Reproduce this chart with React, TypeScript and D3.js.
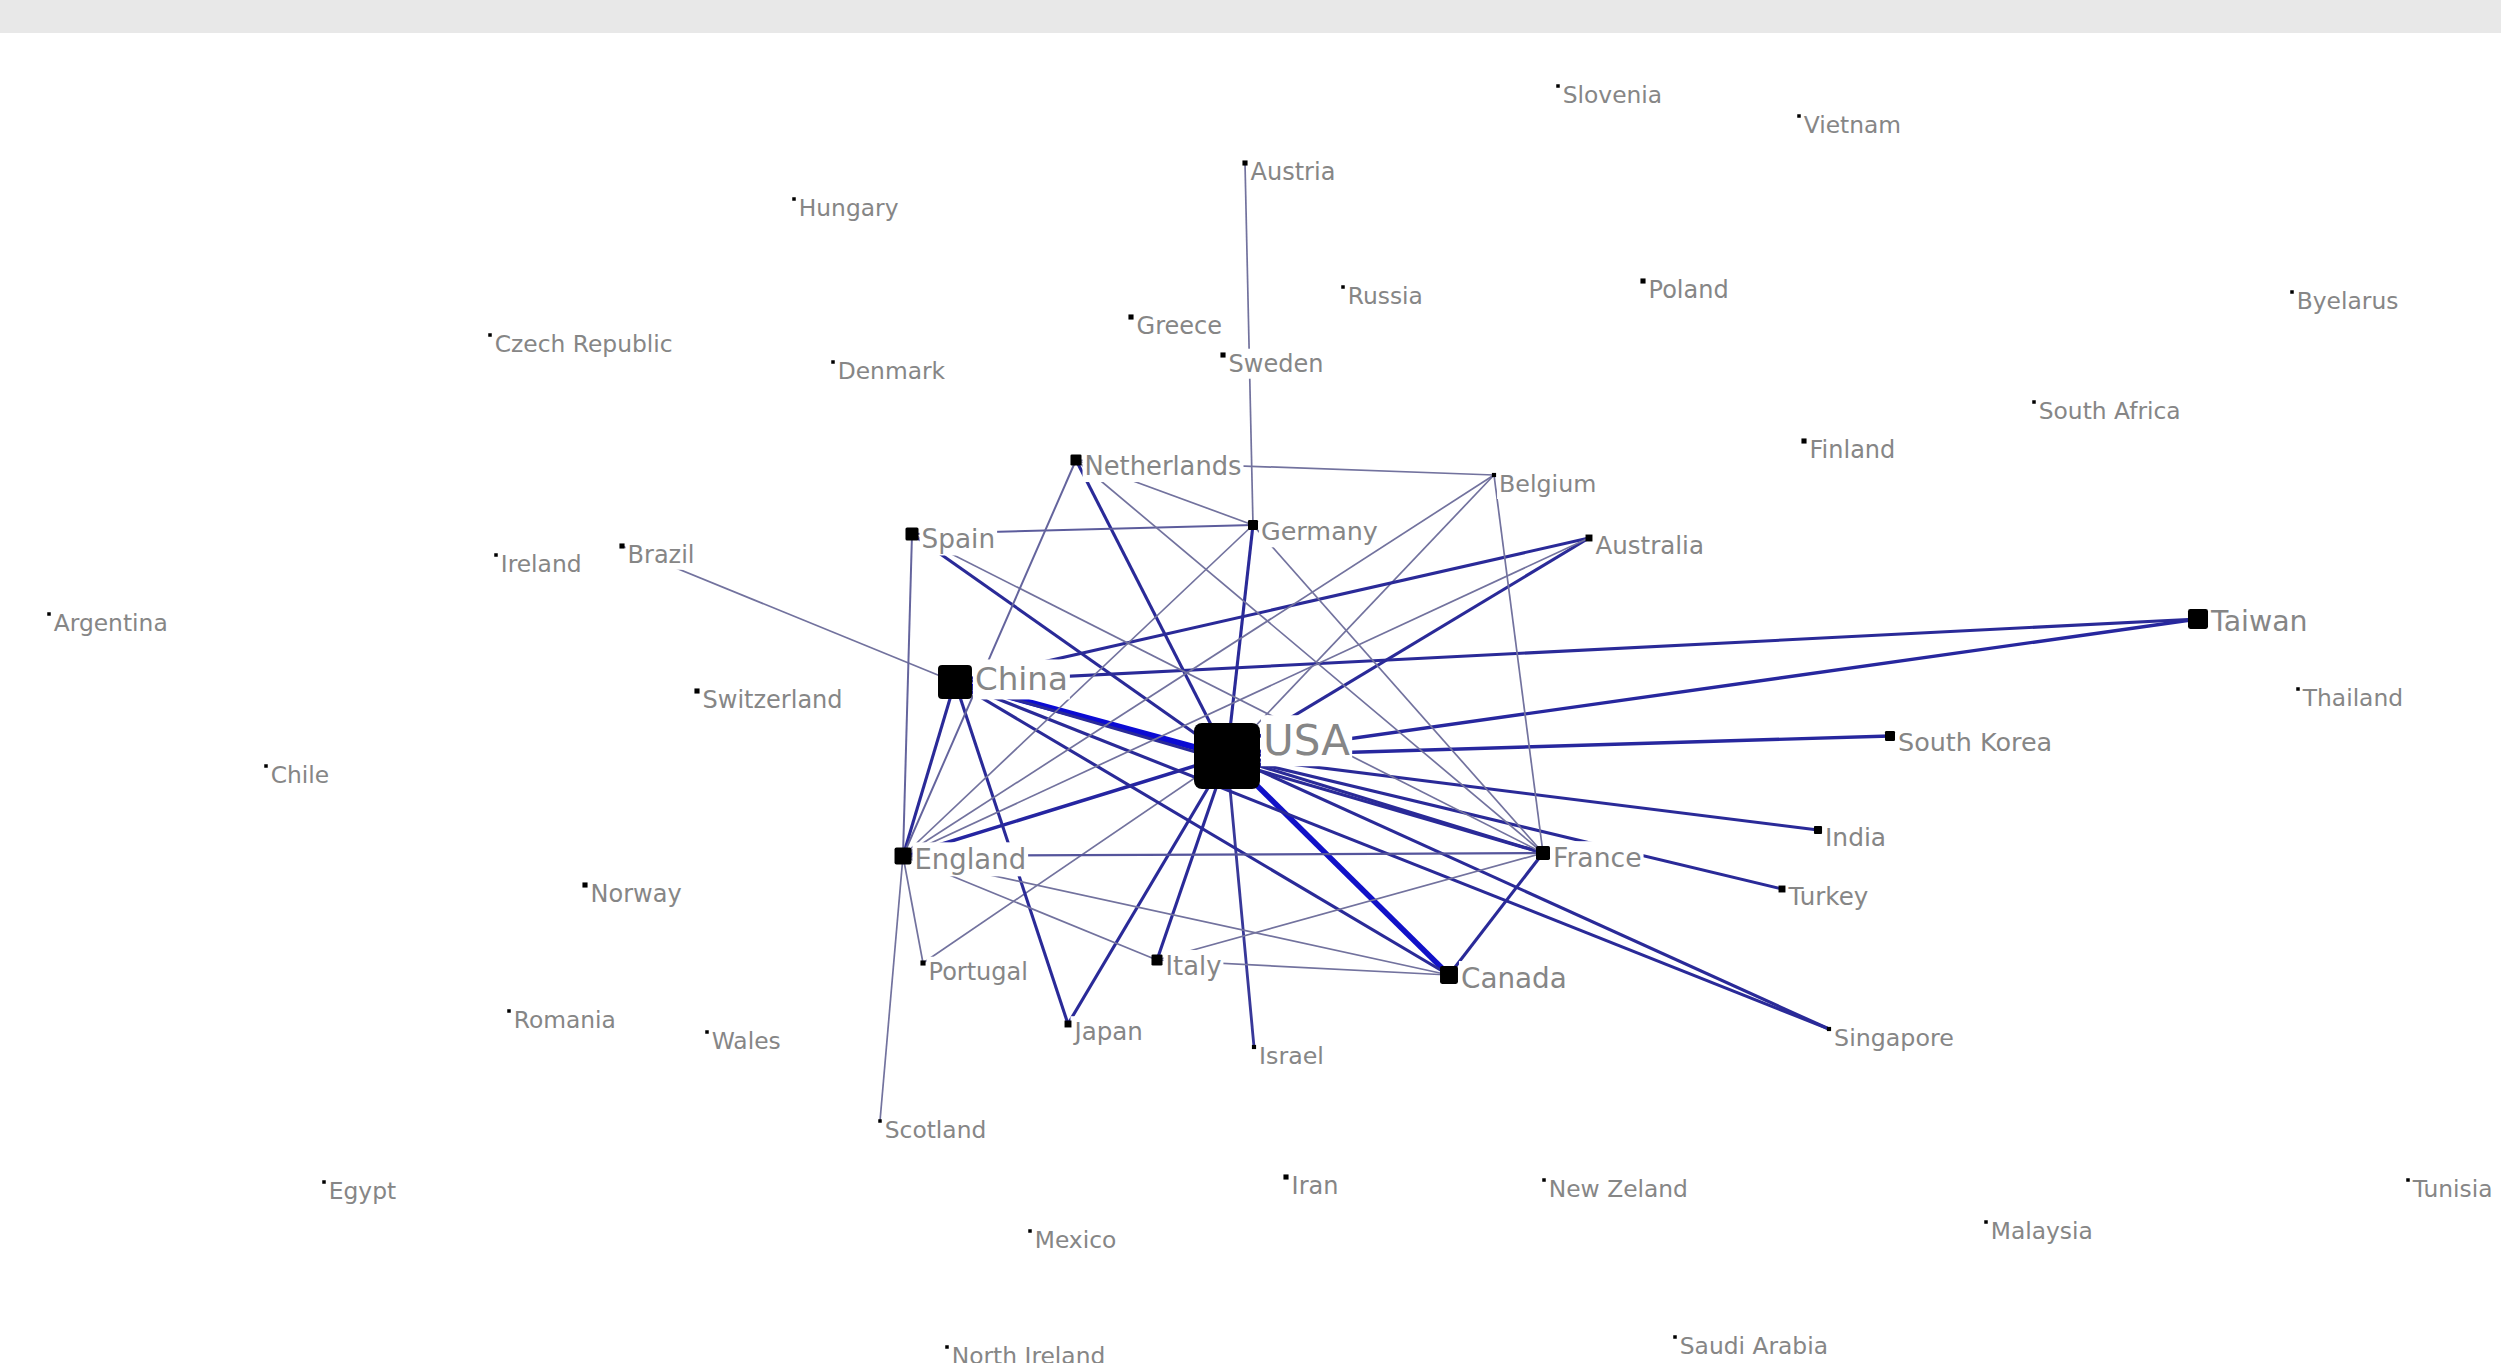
import { useEffect, useRef } from 'react';
import * as d3 from 'd3';

const WIDTH = 2501;
const HEIGHT = 1363;

// countries (nodes) and their layout position / collaboration volume
const countries = [
  'Slovenia', 'Vietnam', 'Austria', 'Hungary', 'Russia', 'Poland', 'Byelarus', 'Greece',
  'Czech Republic', 'Sweden', 'Denmark', 'South Africa', 'Finland', 'Netherlands', 'Belgium',
  'Spain', 'Germany', 'Australia', 'Brazil', 'Ireland', 'Argentina', 'Taiwan', 'China',
  'Switzerland', 'Thailand', 'USA', 'South Korea', 'Chile', 'India', 'England', 'France',
  'Norway', 'Turkey', 'Portugal', 'Italy', 'Canada', 'Romania', 'Japan', 'Wales', 'Israel',
  'Singapore', 'Scotland', 'Iran', 'Egypt', 'New Zeland', 'Tunisia', 'Malaysia', 'Mexico',
  'Saudi Arabia', 'North Ireland'
];

const layoutX = [
  1558, 1799, 1245, 794, 1343, 1643, 2292, 1131,
  490, 1223, 833, 2034, 1804, 1076, 1494,
  912, 1253, 1589, 622, 496, 49, 2198, 955,
  697, 2298, 1227, 1890, 266, 1818, 903, 1543,
  585, 1782, 923, 1157, 1449, 509, 1068, 707, 1254,
  1829, 880, 1286, 324, 1544, 2408, 1986, 1030,
  1675, 947
];

const layoutY = [
  86, 116, 163, 199, 287, 281, 292, 317,
  335, 355, 362, 402, 441, 460, 475,
  534, 525, 538, 546, 555, 614, 619, 682,
  691, 689, 756, 736, 766, 830, 856, 853,
  885, 889, 963, 960, 975, 1011, 1024, 1032, 1047,
  1029, 1121, 1177, 1182, 1180, 1180, 1222, 1231,
  1337, 1347
];

const volume = [
  2, 2, 6, 2, 2, 6, 2, 6,
  2, 6, 2, 2, 6, 28, 4,
  39, 23, 11, 6, 2, 2, 92, 265,
  6, 2, 1000, 23, 2, 15, 66, 45,
  6, 11, 6, 28, 74, 2, 11, 2, 4,
  4, 2, 6, 2, 2, 2, 2, 2,
  2, 2
];

// collaboration links: [source, target, strength]
const links: [string, string, number][] = [
  ['USA', 'China', 4],
  ['USA', 'Canada', 3.6],
  ['USA', 'Taiwan', 2.2],
  ['USA', 'South Korea', 2.2],
  ['USA', 'India', 2],
  ['USA', 'Singapore', 2],
  ['USA', 'Turkey', 2],
  ['USA', 'France', 2],
  ['USA', 'England', 2.3],
  ['USA', 'Australia', 2],
  ['USA', 'Spain', 2],
  ['USA', 'Netherlands', 2],
  ['USA', 'Germany', 2],
  ['USA', 'Japan', 2],
  ['USA', 'Italy', 2],
  ['USA', 'Israel', 1.8],
  ['USA', 'Belgium', 1],
  ['USA', 'Portugal', 1],
  ['China', 'Taiwan', 2],
  ['China', 'Australia', 2],
  ['China', 'England', 2],
  ['China', 'Japan', 2],
  ['China', 'Canada', 2],
  ['China', 'France', 2],
  ['China', 'Singapore', 2],
  ['China', 'Brazil', 1],
  ['Spain', 'Germany', 1.3],
  ['Spain', 'England', 1.2],
  ['Spain', 'France', 1],
  ['Netherlands', 'Belgium', 1],
  ['Netherlands', 'Germany', 1],
  ['Netherlands', 'England', 1.2],
  ['Netherlands', 'France', 1],
  ['Germany', 'Austria', 1],
  ['Germany', 'England', 1],
  ['Germany', 'France', 1],
  ['Belgium', 'England', 1],
  ['Belgium', 'France', 1],
  ['Australia', 'England', 1],
  ['England', 'France', 1.4],
  ['England', 'Scotland', 1],
  ['England', 'Portugal', 1],
  ['England', 'Italy', 1],
  ['England', 'Canada', 1],
  ['Italy', 'Canada', 1],
  ['Italy', 'France', 1],
  ['France', 'Canada', 2]
];

const App = (): JSX.Element => {
  const svgRef = useRef<SVGSVGElement>(null);

  useEffect(() => {
    const svg = d3.select(svgRef.current);
    svg.selectAll('*').remove();

    const x = d3.scaleLinear([0, WIDTH], [0, WIDTH]);
    const y = d3.scaleLinear([0, HEIGHT], [0, HEIGHT]);
    const size = d3.scaleSqrt([0, 1000], [0, 66]);
    const fontSize = d3.scaleSqrt([0, 1000], [22.5, 42]);
    const edgeColor = d3.scaleLinear<string>([1, 2, 4], ['#72729e', '#2a2a98', '#0b0bd4']);
    const edgeWidth = d3.scaleLinear([1, 2, 4], [1.7, 3.1, 6]);

    const index = new Map(countries.map((c, i) => [c, i]));
    const px = (c: string) => x(layoutX[index.get(c)!]);
    const py = (c: string) => y(layoutY[index.get(c)!]);
    const side = (c: string) => Math.max(3.5, size(volume[index.get(c)!]));

    // grey header strip
    svg.append('rect').attr('x', 0).attr('y', 0).attr('width', WIDTH).attr('height', 33).attr('fill', '#e8e8e8');

    // edges
    svg
      .append('g')
      .selectAll('line')
      .data(links)
      .join('line')
      .attr('x1', (d) => px(d[0]))
      .attr('y1', (d) => py(d[0]))
      .attr('x2', (d) => px(d[1]))
      .attr('y2', (d) => py(d[1]))
      .attr('stroke', (d) => edgeColor(d[2]))
      .attr('stroke-width', (d) => edgeWidth(d[2]));

    // labels, with white boxes that hide the edges behind them
    const labels = svg.append('g').selectAll('g').data(countries).join('g');
    labels
      .append('text')
      .attr('x', (d) => px(d) + side(d) / 2 + 3)
      .attr('y', (d) => py(d) - side(d) / 2 + 2 + fontSize(volume[index.get(d)!]) * 0.72)
      .attr('font-family', '"DejaVu Sans", Verdana, sans-serif')
      .attr('font-size', (d) => fontSize(volume[index.get(d)!]))
      .attr('fill', '#868686')
      .text((d) => d);
    labels.each(function () {
      const g = d3.select(this);
      const box = (g.select('text').node() as SVGTextElement).getBBox();
      g.insert('rect', 'text')
        .attr('x', box.x - 2)
        .attr('y', box.y - 1)
        .attr('width', box.width + 4)
        .attr('height', box.height + 2)
        .attr('fill', '#fff');
    });

    // node markers
    svg
      .append('g')
      .selectAll('rect')
      .data(countries)
      .join('rect')
      .attr('x', (d) => px(d) - side(d) / 2)
      .attr('y', (d) => py(d) - side(d) / 2)
      .attr('width', (d) => side(d))
      .attr('height', (d) => side(d))
      .attr('rx', (d) => (side(d) > 8 ? side(d) * 0.12 : 0))
      .attr('fill', '#000');
  }, []);

  return (
    <svg
      ref={svgRef}
      width={WIDTH}
      height={HEIGHT}
      style={{ position: 'absolute', left: 0, top: 0, background: '#fff' }}
    />
  );
};

export default App;
